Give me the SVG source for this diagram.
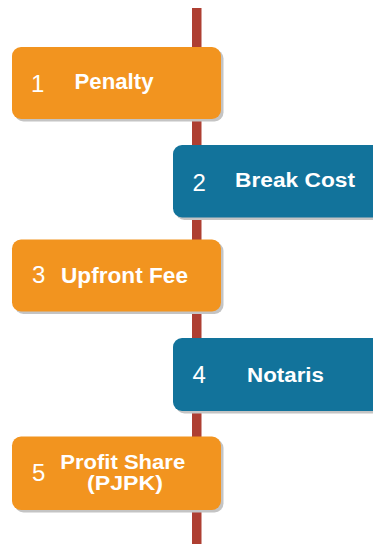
<svg xmlns="http://www.w3.org/2000/svg" width="373" height="544" viewBox="0 0 373 544">
  <defs>
    <style>
      .shadow { fill: #c4c4c4; }
      .orange { fill: #F2941F; }
      .blue { fill: #12739B; }
      .num { font-family: "Liberation Sans", Arial, sans-serif; font-size: 24px; fill: #ffffff; }
      .lbl { font-family: "Liberation Sans", Arial, sans-serif; font-size: 22px; font-weight: bold; fill: #ffffff; }
    </style>
  </defs>
  <rect x="0" y="0" width="373" height="544" fill="#ffffff"/>
  <g id="connectors">
    <rect x="192" y="8" width="9.5" height="536" fill="#AE3F32"/>
  </g>
  <g id="node1">
    <rect class="shadow" x="14.5" y="49.5" width="209" height="72" rx="9"/>
    <rect class="orange" x="12" y="47" width="209" height="72" rx="9"/>
    <text class="num" x="31" y="92">1</text>
    <text class="lbl" x="74.5" y="89" textLength="79" lengthAdjust="spacingAndGlyphs">Penalty</text>
  </g>
  <g id="node2">
    <rect class="shadow" x="175.5" y="147.5" width="210" height="72.5" rx="9"/>
    <rect class="blue" x="173" y="145" width="210" height="72.5" rx="9"/>
    <text class="num" x="192.5" y="190.7">2</text>
    <text class="lbl" x="235" y="186.7" style="font-size:19.5px" textLength="120" lengthAdjust="spacingAndGlyphs">Break Cost</text>
  </g>
  <g id="node3">
    <rect class="shadow" x="14.5" y="242" width="209" height="72" rx="9"/>
    <rect class="orange" x="12" y="239.5" width="209" height="72" rx="9"/>
    <text class="num" x="32" y="283.3">3</text>
    <text class="lbl" x="61" y="283.3" textLength="127" lengthAdjust="spacingAndGlyphs">Upfront Fee</text>
  </g>
  <g id="node4">
    <rect class="shadow" x="175.5" y="340.5" width="210" height="73" rx="9"/>
    <rect class="blue" x="173" y="338" width="210" height="73" rx="9"/>
    <text class="num" x="192.5" y="383.3">4</text>
    <text class="lbl" x="247" y="381.7" style="font-size:19.5px" textLength="77" lengthAdjust="spacingAndGlyphs">Notaris</text>
  </g>
  <g id="node5">
    <rect class="shadow" x="14.5" y="439" width="209" height="73.5" rx="9"/>
    <rect class="orange" x="12" y="436.5" width="209" height="73.5" rx="9"/>
    <text class="num" x="32" y="481">5</text>
    <text class="lbl" x="60.2" y="469" style="font-size:20px" textLength="125" lengthAdjust="spacingAndGlyphs">Profit Share</text>
    <text class="lbl" x="87" y="490" style="font-size:20px" textLength="76" lengthAdjust="spacingAndGlyphs">(PJPK)</text>
  </g>
</svg>
